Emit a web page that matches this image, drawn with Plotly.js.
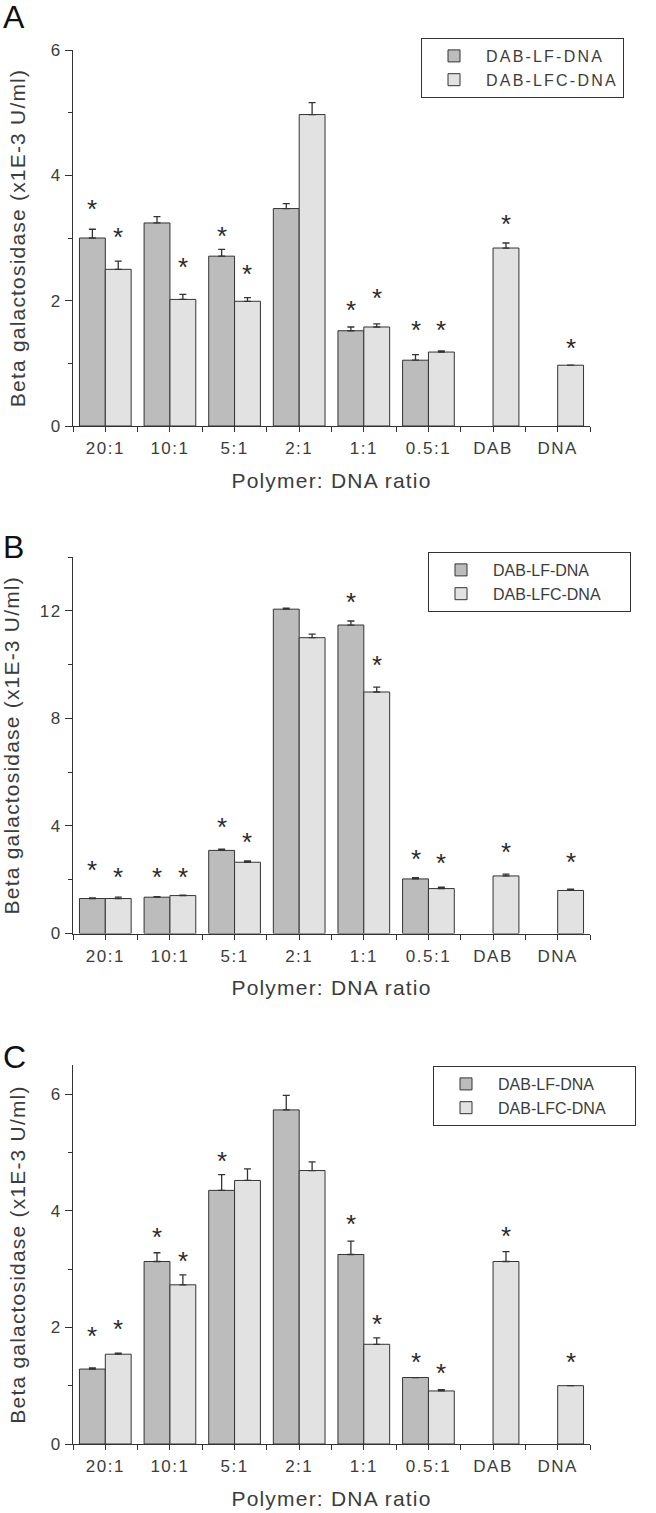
<!DOCTYPE html>
<html>
<head>
<meta charset="utf-8">
<script src="https://cdn.plot.ly/plotly-3.0.1.min.js"></script>
<style>
  html, body { margin: 0; padding: 0; background: #fff; }
  #chart { width: 656px; height: 1513px; }
  text[class$="title"] { letter-spacing: 1.2px; }
  g[class$="tick"] > text { letter-spacing: 1.5px; }
  text.legendtext { letter-spacing: 2.2px; }
</style>
</head>
<body>
<div id="chart"></div>
<script>
// ---------- data ----------
const categories = ['20:1', '10:1', '5:1', '2:1', '1:1', '0.5:1', 'DAB', 'DNA'];
const seriesNames = ['DAB-LF-DNA', 'DAB-LFC-DNA'];
const panelLabels = ['A', 'B', 'C'];

// Panel A
const aLF       = [3.00, 3.24, 2.71, 3.47, 1.52, 1.05, null, null];
const aLFerr    = [0.14, 0.10, 0.11, 0.08, 0.06, 0.09, null, null];
const aLFC      = [2.50, 2.02, 1.99, 4.97, 1.58, 1.18, 2.84, 0.97];
const aLFCerr   = [0.13, 0.08, 0.06, 0.19, 0.05, 0.02, 0.08, 0.00];
const aLFstar   = [3.49, null, 3.07, null, 1.89, 1.57, null, null];
const aLFCstar  = [3.04, 2.57, 2.46, null, 2.07, 1.57, 3.25, 1.28];

// Panel B
const bLF       = [1.30, 1.35, 3.09, 12.06, 11.47, 2.03, null, null];
const bLFerr    = [0.02, 0.02, 0.05, 0.04, 0.15, 0.05, null, null];
const bLFC      = [1.30, 1.41, 2.65, 11.00, 8.98, 1.67, 2.14, 1.60];
const bLFCerr   = [0.05, 0.02, 0.05, 0.13, 0.18, 0.05, 0.07, 0.05];
const bLFstar   = [2.43, 2.18, 4.04, null, 12.40, 2.86, null, null];
const bLFCstar  = [2.18, 2.18, 3.48, null, 10.05, 2.69, 3.11, 2.74];

// Panel C
const cLF       = [1.285, 3.13, 4.35, 5.73, 3.25, 1.14, null, null];
const cLFerr    = [0.02, 0.15, 0.27, 0.25, 0.23, 0.00, null, null];
const cLFC      = [1.54, 2.73, 4.52, 4.69, 1.71, 0.91, 3.13, 1.00];
const cLFCerr   = [0.02, 0.17, 0.20, 0.15, 0.11, 0.02, 0.17, 0.00];
const cLFstar   = [1.88, 3.59, 4.89, null, 3.80, 1.44, null, null];
const cLFCstar  = [2.00, 3.18, null, null, 2.10, 1.25, 3.60, 1.44];

const yRanges = [[0, 6], [0, 14], [0, 6.5]];
const yDticks = [2, 4, 2];

// ---------- styling ----------
const FONT = 'Liberation Sans, Arial, Helvetica, sans-serif';
const darkFill = '#bcbcbc';
const lightFill = '#e2e2e2';
const edge = '#333333';
const textGray = '#3c3c3c';

const panels = [
  {lf: aLF, lfErr: aLFerr, lfc: aLFC, lfcErr: aLFCerr, lfStar: aLFstar, lfcStar: aLFCstar},
  {lf: bLF, lfErr: bLFerr, lfc: bLFC, lfcErr: bLFCerr, lfStar: bLFstar, lfcStar: bLFCstar},
  {lf: cLF, lfErr: cLFerr, lfc: cLFC, lfcErr: cLFCerr, lfStar: cLFstar, lfcStar: cLFCstar}
];

// pixel layout of each panel (top of y axis, zero line)
const H = 1513, W = 656;
const yTopPx = [50, 557, 1065];
const yBotPx = [426, 933.5, 1444];
const legendTopPx = [38, 552, 1066];
const legendLeftPx = [421, 428, 433];
const letterYPx = [17, 547, 1057];
const xDomain = [73 / W, 590 / W];

const idx = categories.map((_, i) => i);
const data = [];
const annotations = [];
const layout = {
  width: W, height: H,
  margin: {l: 0, r: 0, t: 0, b: 0},
  paper_bgcolor: '#fff', plot_bgcolor: '#fff',
  barmode: 'group', bargap: 0.2, bargroupgap: 0,
  font: {family: FONT, color: textGray},
  showlegend: true
};

panels.forEach((p, k) => {
  const n = k === 0 ? '' : String(k + 1);
  const xa = 'x' + n, ya = 'y' + n;
  const lg = 'legend' + n;
  const mk = (vals, err, fill, name) => ({
    type: 'bar', x: idx, y: vals, name: name,
    xaxis: xa, yaxis: ya, legend: lg,
    marker: {color: fill, line: {color: edge, width: 1}},
    error_y: {type: 'data', symmetric: false, array: err,
              arrayminus: err.map(() => 0), color: edge, thickness: 1.3, width: 3.5},
    hoverinfo: 'x+y'
  });
  data.push(mk(p.lf, p.lfErr, darkFill, seriesNames[0]));
  data.push(mk(p.lfc, p.lfcErr, lightFill, seriesNames[1]));

  // significance stars
  [[p.lfStar, -0.2], [p.lfcStar, 0.2]].forEach(([arr, off]) => {
    arr.forEach((v, i) => {
      if (v === null) return;
      annotations.push({
        xref: xa, yref: ya, x: i + off, y: v, text: '*',
        showarrow: false, xanchor: 'center', yanchor: 'middle', yshift: -2,
        font: {family: FONT, size: 26, color: '#2a2a2a'}
      });
    });
  });

  // panel letter
  annotations.push({
    xref: 'paper', yref: 'paper', x: 1 / W, y: 1 - letterYPx[k] / H,
    xanchor: 'left', yanchor: 'middle', showarrow: false, text: panelLabels[k],
    font: {family: FONT, size: 32, color: '#111'}
  });

  layout['xaxis' + n] = {
    domain: xDomain, anchor: ya, range: [-0.5, 7.5],
    tickvals: idx, ticktext: categories,
    showline: true, linecolor: edge, linewidth: 1,
    ticks: 'outside', ticklen: 5, tickcolor: edge, tickwidth: 1,
    ticklabelstandoff: 2,
    minor: {tick0: -0.5, dtick: 0.5, ticks: 'outside', ticklen: 5, tickcolor: edge, tickwidth: 1},
    showgrid: false, zeroline: false, fixedrange: true,
    tickfont: {family: FONT, size: 17, color: textGray},
    title: {text: 'Polymer: DNA ratio', standoff: 15,
            font: {family: FONT, size: 21, color: textGray}}
  };
  layout['yaxis' + n] = {
    domain: [1 - yBotPx[k] / H, 1 - yTopPx[k] / H], anchor: xa,
    range: yRanges[k], tick0: 0, dtick: yDticks[k],
    showline: true, linecolor: edge, linewidth: 1,
    ticks: 'outside', ticklen: 7, tickcolor: edge, tickwidth: 1,
    minor: {dtick: yDticks[k] / 2, ticks: 'outside', ticklen: 4, tickcolor: edge, tickwidth: 1},
    showgrid: false, zeroline: false, fixedrange: true,
    tickfont: {family: FONT, size: 17, color: textGray},
    title: {text: 'Beta galactosidase (x1E-3 U/ml)', standoff: 19,
            font: {family: FONT, size: 21, color: textGray}}
  };
  layout[lg] = {
    x: legendLeftPx[k] / W, y: 1 - legendTopPx[k] / H,
    xanchor: 'left', yanchor: 'top',
    bgcolor: '#fff', bordercolor: edge, borderwidth: 1,
    font: {family: FONT, size: 16, color: textGray},
    itemwidth: 54, tracegroupgap: 0
  };
});
layout.annotations = annotations;

Plotly.newPlot('chart', data, layout, {displayModeBar: false, staticPlot: true});
</script>
</body>
</html>
